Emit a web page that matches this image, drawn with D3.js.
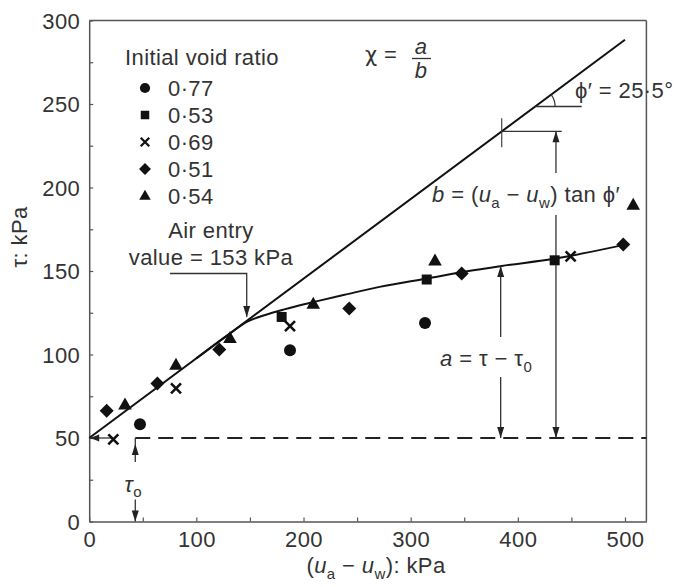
<!DOCTYPE html>
<html>
<head>
<meta charset="utf-8">
<script src="https://cdn.jsdelivr.net/npm/d3@7"></script>
<style>
  html, body { margin: 0; padding: 0; background: #fff; }
  svg text { font-family: "Liberation Sans", Arial, Helvetica, sans-serif; fill: #333; letter-spacing: 0.4px; }
</style>
</head>
<body>
<svg id="chart" width="683" height="587"></svg>
<script>
// ---------------- data ----------------
const voidRatios = ["0·77", "0·53", "0·69", "0·51", "0·54"];
const markerTypes = ["circle", "square", "cross", "diamond", "triangle"];

const suction077 = [47.4, 187.4, 313.4];
const tau077     = [58.3, 102.6, 118.9];
const suction053 = [179.6, 315, 434.4];
const tau053     = [122.5, 144.9, 156.4];
const suction069 = [22.5, 81, 187.4, 449.3];
const tau069     = [49.2, 79.7, 117, 158.8];
const suction051 = [16.3, 63.6, 121.4, 242.7, 347.6, 498.4];
const tau051     = [66.3, 82.7, 103, 127.5, 148.5, 165.8];
const suction054 = [33.4, 81, 131.4, 209.1, 322.7, 507.7];
const tau054     = [69.7, 93.6, 109.6, 130.1, 156, 189.3];

// failure envelope (saturated) and fitted curve
const tau0 = 50;
const phiDeg = 25.5;
const airEntry = 153;
const envelopeX = [0, 500];
const curveX = [100, 128, 148, 165, 182, 210, 240, 271, 315, 350, 385, 435, 498];
const curveY = [97.7, 111, 119.8, 123.8, 127, 131.5, 136, 140.5, 145.5, 149.5, 153, 157.5, 165.5];

const xTicks = [0, 100, 200, 300, 400, 500];
const yTicks = [0, 50, 100, 150, 200, 250, 300];

// ---------------- chart ----------------
const svg = d3.select("#chart");
const x = d3.scaleLinear().domain([0, 520]).range([89.2, 646.4]);
const y = d3.scaleLinear().domain([0, 300]).range([521.5, 20.5]);
const tanPhi = Math.tan(phiDeg * Math.PI / 180);
const env = v => tau0 + v * tanPhi;

const axisColor = "#555";
const annColor = "#333";

// axes
const xAxis = d3.axisBottom(x)
  .tickValues(d3.range(0, 521, 50))
  .tickSizeInner(-4).tickSizeOuter(0).tickPadding(10)
  .tickFormat(d => xTicks.includes(d) ? d : "");
const yAxis = d3.axisLeft(y)
  .tickValues(d3.range(0, 301, 25))
  .tickSizeInner(-4).tickSizeOuter(0).tickPadding(9)
  .tickFormat(d => yTicks.includes(d) ? d : "");

const gx = svg.append("g").attr("transform", `translate(0,${y(0)})`).call(xAxis);
const gy = svg.append("g").attr("transform", `translate(${x(0)},0)`).call(yAxis);
[gx, gy].forEach(g => {
  g.select(".domain").attr("stroke", axisColor).attr("stroke-width", 1.5);
  g.selectAll(".tick line").attr("stroke", axisColor).attr("stroke-width", 1.2);
  g.selectAll(".tick text").attr("font-size", 22).attr("fill", "#333")
    .style("font-family", '"Liberation Sans", Arial, sans-serif');
});
gy.selectAll(".tick text").attr("dy", "0.36em");
// top and right frame
svg.append("line").attr("x1", x(0)).attr("x2", x(520)).attr("y1", y(300)).attr("y2", y(300))
  .attr("stroke", axisColor).attr("stroke-width", 1.5);
svg.append("line").attr("x1", x(520)).attr("x2", x(520)).attr("y1", y(300)).attr("y2", y(0))
  .attr("stroke", axisColor).attr("stroke-width", 1.5);

// axis titles
const xt = svg.append("text").attr("x", 376).attr("y", 573).attr("text-anchor", "middle").attr("font-size", 22);
xt.append("tspan").text("(");
xt.append("tspan").attr("font-style", "italic").text("u");
xt.append("tspan").attr("font-size", 15).attr("dy", 6).text("a");
xt.append("tspan").attr("dy", -6).text(" − ");
xt.append("tspan").attr("font-style", "italic").text("u");
xt.append("tspan").attr("font-size", 15).attr("dy", 6).text("w");
xt.append("tspan").attr("dy", -6).text("): kPa");

svg.append("text").attr("transform", "translate(27,237) rotate(-90)")
  .attr("text-anchor", "middle").attr("font-size", 22).text("τ: kPa");

// arrowhead helper (tip at px,py; direction in degrees: 0=right,90=down)
function arrowHead(px, py, dirDeg, len = 11, half = 3.5) {
  const a = dirDeg * Math.PI / 180;
  const bx = px - len * Math.cos(a), by = py - len * Math.sin(a);
  const nx = -Math.sin(a) * half, ny = Math.cos(a) * half;
  svg.append("path")
    .attr("d", `M${px},${py}L${bx + nx},${by + ny}L${bx - nx},${by - ny}Z`)
    .attr("fill", "#222");
}
function seg(x1, y1, x2, y2, w = 1.3) {
  svg.append("line").attr("x1", x1).attr("y1", y1).attr("x2", x2).attr("y2", y2)
    .attr("stroke", annColor).attr("stroke-width", w);
}

// tau0 dashed line
svg.append("line").attr("x1", x(43)).attr("x2", x(520)).attr("y1", y(tau0)).attr("y2", y(tau0))
  .attr("stroke", "#222").attr("stroke-width", 1.8).attr("stroke-dasharray", "15,8");

// envelope line
const lineGen = d3.line().x(d => x(d[0])).y(d => y(d[1]));
svg.append("path").datum(envelopeX.map(v => [v, env(v)]))
  .attr("d", lineGen).attr("fill", "none").attr("stroke", "#111").attr("stroke-width", 2);

// fitted curve
svg.append("path").datum(curveX.map((v, i) => [v, curveY[i]]))
  .attr("d", lineGen.curve(d3.curveMonotoneX)).attr("fill", "none")
  .attr("stroke", "#111").attr("stroke-width", 2);

// intercept arrow
seg(x(0), y(tau0), x(0) + 22, y(tau0));
arrowHead(x(0) + 1, y(tau0), 180, 9, 3.5);

// tau0 dimension
const t0x = x(43);
seg(t0x, y(tau0), t0x, y(tau0) + 24);
arrowHead(t0x, y(tau0) + 6, -90, 11, 3.5);
seg(t0x, y(0) - 22, t0x, y(0));
arrowHead(t0x, y(0), 90, 11, 3.5);
const t0l = svg.append("text").attr("x", t0x - 2).attr("y", 492).attr("text-anchor", "middle").attr("font-size", 22);
t0l.append("tspan").attr("font-style", "italic").text("τ");
t0l.append("tspan").attr("font-size", 15).attr("dy", 5).text("o");

// air entry annotation
svg.append("text").attr("x", 211).attr("y", 238).attr("text-anchor", "middle").attr("font-size", 22).text("Air entry");
svg.append("text").attr("x", 211).attr("y", 265).attr("text-anchor", "middle").attr("font-size", 22).text("value = " + airEntry + " kPa");
const aeX = x(147);
svg.append("path").attr("d", `M170,273.5H${aeX}V${y(env(147)) - 4}`)
  .attr("fill", "none").attr("stroke", annColor).attr("stroke-width", 1.3);
arrowHead(aeX, y(env(147)) - 4, 90, 11, 3.5);

// chi = a/b
const chi = svg.append("text").attr("x", 365).attr("y", 62).attr("font-size", 22);
chi.append("tspan").style("font-family", '"DejaVu Sans", sans-serif').attr("font-size", 21).text("χ");
chi.append("tspan").text(" = ");
svg.append("text").attr("x", 421).attr("y", 54).attr("text-anchor", "middle").attr("font-size", 22)
  .attr("font-style", "italic").text("a");
svg.append("line").attr("x1", 412).attr("x2", 431).attr("y1", 58.5).attr("y2", 58.5)
  .attr("stroke", "#333").attr("stroke-width", 1.3);
svg.append("text").attr("x", 421).attr("y", 78).attr("text-anchor", "middle").attr("font-size", 22)
  .attr("font-style", "italic").text("b");

// phi' angle
const phiLevel = 248.5;
const vx = (phiLevel - tau0) / tanPhi;
seg(x(vx), y(phiLevel), x(459.6), y(phiLevel));
{
  const r = 20;
  const ang = Math.atan(tanPhi * (y(0) - y(1)) / (x(1) - x(0)));
  const cx = x(vx), cy = y(phiLevel);
  svg.append("path").attr("d", `M${cx + r},${cy}A${r},${r} 0 0 0 ${cx + r * Math.cos(ang)},${cy - r * Math.sin(ang)}`)
    .attr("fill", "none").attr("stroke", annColor).attr("stroke-width", 1.2);
}
svg.append("text").attr("x", 575).attr("y", 98).attr("font-size", 22).text("ϕ′ = 25·5°");

// b dimension
const bTick = 385, bX = 435.6;
seg(x(bTick), y(env(bTick)) - 13, x(bTick), y(env(bTick)) + 16, 1.1);
seg(x(bTick), y(env(bTick)), x(441), y(env(bTick)));
seg(x(bX), y(env(bTick)), x(bX), 173);
arrowHead(x(bX), y(env(bTick)), -90, 11, 3.5);
seg(x(bX), 215, x(bX), y(tau0));
arrowHead(x(bX), y(tau0), 90, 11, 3.5);
const bt = svg.append("text").attr("x", 432).attr("y", 202).attr("font-size", 22);
bt.append("tspan").attr("font-style", "italic").text("b");
bt.append("tspan").text(" = (");
bt.append("tspan").attr("font-style", "italic").text("u");
bt.append("tspan").attr("font-size", 15).attr("dy", 6).text("a");
bt.append("tspan").attr("dy", -6).text(" − ");
bt.append("tspan").attr("font-style", "italic").text("u");
bt.append("tspan").attr("font-size", 15).attr("dy", 6).text("w");
bt.append("tspan").attr("dy", -6).text(") tan ϕ′");

// a dimension
const aX = 384, aTop = 153;
seg(x(aX), y(aTop), x(aX), 337);
arrowHead(x(aX), y(aTop), -90, 11, 3.5);
seg(x(aX), 377, x(aX), y(tau0));
arrowHead(x(aX), y(tau0), 90, 11, 3.5);
const at = svg.append("text").attr("x", 440).attr("y", 366).attr("font-size", 22);
at.append("tspan").attr("font-style", "italic").text("a");
at.append("tspan").text(" = τ − τ");
at.append("tspan").attr("font-size", 15).attr("dy", 6).text("0");

// markers
function marker(g, type) {
  if (type === "circle") g.append("circle").attr("r", 6).attr("fill", "#111");
  else if (type === "square") g.append("rect").attr("x", -5).attr("y", -5).attr("width", 10).attr("height", 10).attr("fill", "#111");
  else if (type === "cross") g.append("path").attr("d", "M-5,-5L5,5M-5,5L5,-5").attr("stroke", "#111").attr("stroke-width", 2.6).attr("fill", "none");
  else if (type === "diamond") g.append("path").attr("d", "M0,-7L7,0L0,7L-7,0Z").attr("fill", "#111");
  else if (type === "triangle") g.append("path").attr("d", "M0,-7.5L6.8,4.5L-6.8,4.5Z").attr("fill", "#111");
}
const seriesX = [suction077, suction053, suction069, suction051, suction054];
const seriesY = [tau077, tau053, tau069, tau051, tau054];
seriesX.forEach((xs, s) => {
  xs.forEach((v, i) => {
    const g = svg.append("g").attr("transform", `translate(${x(v)},${y(seriesY[s][i])})`);
    marker(g, markerTypes[s]);
  });
});

// legend
svg.append("text").attr("x", 125).attr("y", 65).attr("font-size", 22).text("Initial void ratio");
voidRatios.forEach((lab, i) => {
  const cy = 88 + i * 27;
  const g = svg.append("g").attr("transform", `translate(145,${cy})`);
  const inner = g.append("g").attr("transform", "scale(0.85)");
  marker(inner, markerTypes[i]);
  svg.append("text").attr("x", 168).attr("y", cy + 8).attr("font-size", 22).text(lab);
});
</script>
</body>
</html>
